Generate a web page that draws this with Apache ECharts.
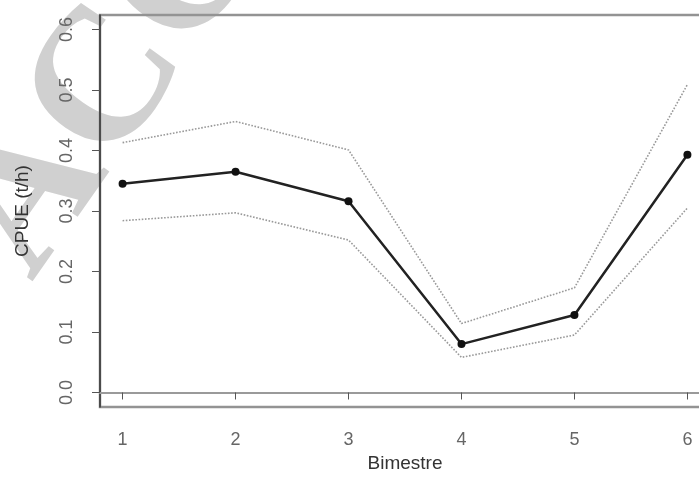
<!DOCTYPE html>
<html>
<head>
<meta charset="utf-8">
<script src="https://cdn.jsdelivr.net/npm/echarts@6/dist/echarts.min.js"></script>
<style>
html,body{margin:0;padding:0;background:#fff;}
#c{width:699px;height:492px;}
</style>
</head>
<body>
<div id="c"></div>
<script>
const bimestre = [1, 2, 3, 4, 5, 6];
const cpue  = [0.345, 0.365, 0.316, 0.080, 0.128, 0.393];
const upper = [0.413, 0.448, 0.401, 0.114, 0.173, 0.509];
const lower = [0.284, 0.297, 0.252, 0.058, 0.095, 0.305];
const xTickLabels = [1, 2, 3, 4, 5, 6];
const yTickLabels = [0.0, 0.1, 0.2, 0.3, 0.4, 0.5, 0.6];

const pairs = arr => bimestre.map((b, i) => [b, arr[i]]);
const fontFam = '"Liberation Sans Narrow", "Liberation Sans", Arial, sans-serif';

const chart = echarts.init(document.getElementById('c'), null, {renderer: 'canvas'});
chart.setOption({
  animation: false,
  backgroundColor: '#ffffff',
  graphic: [{
    type: 'text',
    z: -10,
    x: 69,
    y: 309,
    rotation: 55 * Math.PI / 180,
    silent: true,
    style: {
      text: 'ACCEPTED MANUSCRIPT',
      font: 'bold 190px "Liberation Serif", "DejaVu Serif", serif',
      fill: '#d0d0d0',
      textAlign: 'left',
      textVerticalAlign: 'bottom'
    }
  }],
  grid: {
    left: 100, top: 15, width: 610, bottom: 85,
    outerBoundsMode: 'none', containLabel: false,
    show: true, borderColor: '#939393', borderWidth: 2.5, backgroundColor: 'transparent'
  },
  xAxis: {
    type: 'value', min: 0.8, max: 6.2,
    name: 'Bimestre', nameLocation: 'middle', nameGap: 38,
    nameTextStyle: {fontFamily: fontFam, fontSize: 19, color: '#333'},
    axisLine: {show: true, lineStyle: {color: '#9a9a9a', width: 2}},
    axisTick: {show: true, customValues: xTickLabels, length: 7, lineStyle: {color: '#555', width: 1}},
    axisLabel: {customValues: xTickLabels, margin: 24, fontFamily: fontFam, fontSize: 18, color: '#666'},
    splitLine: {show: false}
  },
  yAxis: {
    type: 'value', min: -0.024, max: 0.624,
    name: 'CPUE (t/h)', nameLocation: 'middle', nameGap: 68, nameRotate: 90,
    nameTextStyle: {fontFamily: fontFam, fontSize: 19, color: '#333'},
    axisLine: {show: true, lineStyle: {color: '#333', width: 1.5}},
    axisTick: {show: true, customValues: yTickLabels, length: 8, lineStyle: {color: '#555', width: 1}},
    axisLabel: {customValues: yTickLabels, rotate: 90, margin: 24, fontFamily: fontFam, fontSize: 18, color: '#666',
      formatter: v => v.toFixed(1)},
    splitLine: {show: false}
  },
  series: [
    {
      name: 'upper', type: 'line', data: pairs(upper), symbol: 'none',
      lineStyle: {color: '#999', width: 1.6, type: 'dotted'}, z: 2
    },
    {
      name: 'lower', type: 'line', data: pairs(lower), symbol: 'none',
      lineStyle: {color: '#999', width: 1.6, type: 'dotted'}, z: 2
    },
    {
      name: 'CPUE', type: 'line', data: pairs(cpue), symbol: 'circle', symbolSize: 8,
      itemStyle: {color: '#111'}, lineStyle: {color: '#222', width: 2.5}, z: 3
    }
  ]
});
</script>
</body>
</html>
